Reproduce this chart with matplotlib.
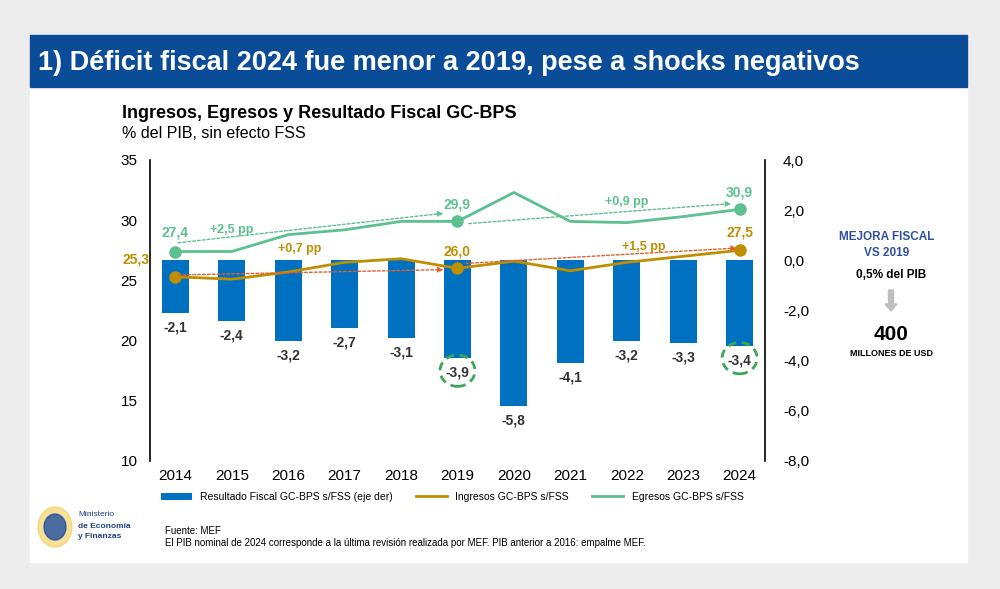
import matplotlib
matplotlib.use("Agg")
import matplotlib.pyplot as plt
from matplotlib.patches import Rectangle, Ellipse, FancyArrow

plt.rcParams['font.family'] = ['Liberation Sans', 'DejaVu Sans']

years = [2014, 2015, 2016, 2017, 2018, 2019, 2020, 2021, 2022, 2023, 2024]
resultado = [-2.1, -2.4, -3.2, -2.7, -3.1, -3.9, -5.8, -4.1, -3.2, -3.3, -3.4]
ingresos = [25.3, 25.1, 25.7, 26.5, 26.8, 26.0, 26.6, 25.8, 26.5, 27.0, 27.5]
egresos = [27.4, 27.4, 28.8, 29.2, 29.9, 29.9, 32.3, 29.9, 29.8, 30.3, 30.9]
ing_labels = {2014: "25,3", 2019: "26,0", 2024: "27,5"}
egr_labels = {2014: "27,4", 2019: "29,9", 2024: "30,9"}

BLUE = "#0070C0"; GOLD = "#BF8F00"; GREEN = "#5CC08F"; RED = "#E06030"

W, H = 1000, 589
fig = plt.figure(figsize=(W/100, H/100), dpi=100)
fig.patch.set_facecolor("#EDEDED")
bg = fig.add_axes([0, 0, 1, 1]); bg.set_xlim(0, W); bg.set_ylim(H, 0); bg.axis("off")
bg.add_patch(Rectangle((30, 35), 937, 527, color="white"))
bg.add_patch(Rectangle((30, 35), 937, 52, color="#0B4C99"))
bg.text(38, 63, "1) Déficit fiscal 2024 fue menor a 2019, pese a shocks negativos",
        color="white", fontsize=19.5, fontweight="bold", va="center")
bg.text(122, 114, "Ingresos, Egresos y Resultado Fiscal GC-BPS", fontsize=13, fontweight="bold", va="center")
bg.text(122, 134, "% del PIB, sin efecto FSS", fontsize=11.5, va="center")
# right panel
bg.text(887, 237, "MEJORA FISCAL", color="#2F4F9F", fontsize=8.5, fontweight="bold", ha="center", va="center")
bg.text(887, 253, "VS 2019", color="#2F4F9F", fontsize=8.5, fontweight="bold", ha="center", va="center")
bg.text(891, 275, "0,5% del PIB", fontsize=8.5, fontweight="bold", ha="center", va="center")
bg.add_patch(FancyArrow(891, 290, 0, 14, width=5, head_width=12, head_length=7, color="#BFBFBF"))
bg.text(891, 334, "400", fontsize=15, fontweight="bold", ha="center", va="center")
bg.text(891, 353, "MILLONES DE USD", fontsize=6.5, fontweight="bold", ha="center", va="center")
# footer
bg.text(165, 531, "Fuente: MEF", fontsize=7, va="center")
bg.text(165, 543, "El PIB nominal de 2024 corresponde a la última revisión realizada por MEF. PIB anterior a 2016: empalme MEF.",
        fontsize=7, va="center")
bg.add_patch(Ellipse((55, 527), 34, 40, color="#F2C230", alpha=0.5))
bg.add_patch(Ellipse((55, 527), 22, 26, color="#1F4F9F", alpha=0.8))
bg.text(78, 515, "Ministerio", fontsize=6, color="#1F3F7F", va="center")
bg.text(78, 526, "de Economía", fontsize=6, color="#1F3F7F", fontweight="bold", va="center")
bg.text(78, 537, "y Finanzas", fontsize=6, color="#1F3F7F", fontweight="bold", va="center")

ax = fig.add_axes([150/W, 1-461/H, 615/W, 301/H])
ax2 = ax.twinx()
ax.set_ylim(10, 35); ax2.set_ylim(-8, 4)
ax.set_xlim(2013.55, 2024.45)
ax2.bar(years, resultado, width=0.48, color=BLUE, zorder=1, label="Resultado Fiscal GC-BPS s/FSS (eje der)")
for y, v in zip(years, resultado):
    ax2.text(y, v - 0.3, f"{v:.1f}".replace(".", ","), ha="center", va="top", fontsize=10, fontweight="bold", color="#333333")
ax.set_zorder(ax2.get_zorder() + 1); ax.patch.set_visible(False)
ax.plot(years, ingresos, color=GOLD, lw=2, label="Ingresos GC-BPS s/FSS")
ax.plot(years, egresos, color=GREEN, lw=2, label="Egresos GC-BPS s/FSS")
ing_pos = {2014: (2013.55, 26.7, "right"), 2019: (2019, 27.4, "center"), 2024: (2024, 29.0, "center")}
egr_pos = {2014: (2014, 29.0, "center"), 2019: (2019, 31.3, "center"), 2024: (2024, 32.3, "center")}
for y, lab in ing_labels.items():
    ax.plot(y, ingresos[years.index(y)], "o", color=GOLD, ms=8)
    px, py, ha = ing_pos[y]
    ax.text(px, py, lab, color=GOLD, fontsize=10, fontweight="bold", ha=ha, va="center")
for y, lab in egr_labels.items():
    ax.plot(y, egresos[years.index(y)], "o", color=GREEN, ms=8)
    px, py, ha = egr_pos[y]
    ax.text(px, py, lab, color=GREEN, fontsize=10, fontweight="bold", ha=ha, va="center")
def arrow(x0, y0, x1, y1, c):
    ax.annotate("", xy=(x1, y1), xytext=(x0, y0),
                arrowprops=dict(arrowstyle="-|>", color=c, lw=1, ls=(0, (2, 1.5)), mutation_scale=8))
arrow(2014, 28.1, 2018.8, 30.6, GREEN)
arrow(2019.15, 29.7, 2023.9, 31.4, GREEN)
arrow(2014, 25.45, 2018.8, 25.9, RED)
arrow(2019.1, 26.4, 2024, 27.7, RED)
ax.text(2015.0, 29.2, "+2,5 pp", color=GREEN, fontsize=9, fontweight="bold", ha="center", va="center")
ax.text(2022.0, 31.5, "+0,9 pp", color=GREEN, fontsize=9, fontweight="bold", ha="center", va="center")
ax.text(2016.2, 27.6, "+0,7 pp", color=GOLD, fontsize=9, fontweight="bold", ha="center", va="center")
ax.text(2022.3, 27.8, "+1,5 pp", color=GOLD, fontsize=9, fontweight="bold", ha="center", va="center")
for yr, v in [(2019, -3.9), (2024, -3.4)]:
    ax2.add_patch(Ellipse((yr, v - 0.5), 0.62, 1.25, fill=False, ec="#3AA856", lw=2, ls=(0, (3, 2))))

ax.set_yticks(range(10, 36, 5))
ax2.set_yticks(range(-8, 5, 2))
ax2.set_yticklabels([f"{v:.1f}".replace(".", ",") for v in range(-8, 5, 2)])
ax.set_xticks(years)
for a in (ax, ax2):
    a.tick_params(labelsize=11, length=0)
    a.spines["top"].set_visible(False)
    a.spines["bottom"].set_visible(False)
ax.tick_params(axis="y", pad=9)
ax.tick_params(axis="x", pad=6)
ax2.tick_params(axis="y", pad=13)
ax.spines["left"].set_linewidth(1.2); ax2.spines["right"].set_linewidth(1.2)
ax.spines["right"].set_visible(False); ax2.spines["left"].set_visible(False)
h1, l1 = ax2.get_legend_handles_labels(); h2, l2 = ax.get_legend_handles_labels()
fig.legend(h1 + h2, l1 + l2, loc="center", bbox_to_anchor=(452/W, 1-497/H), ncol=3, frameon=False,
           fontsize=7.5, handlelength=3, columnspacing=2.2)
fig.savefig("out.png", dpi=100)
